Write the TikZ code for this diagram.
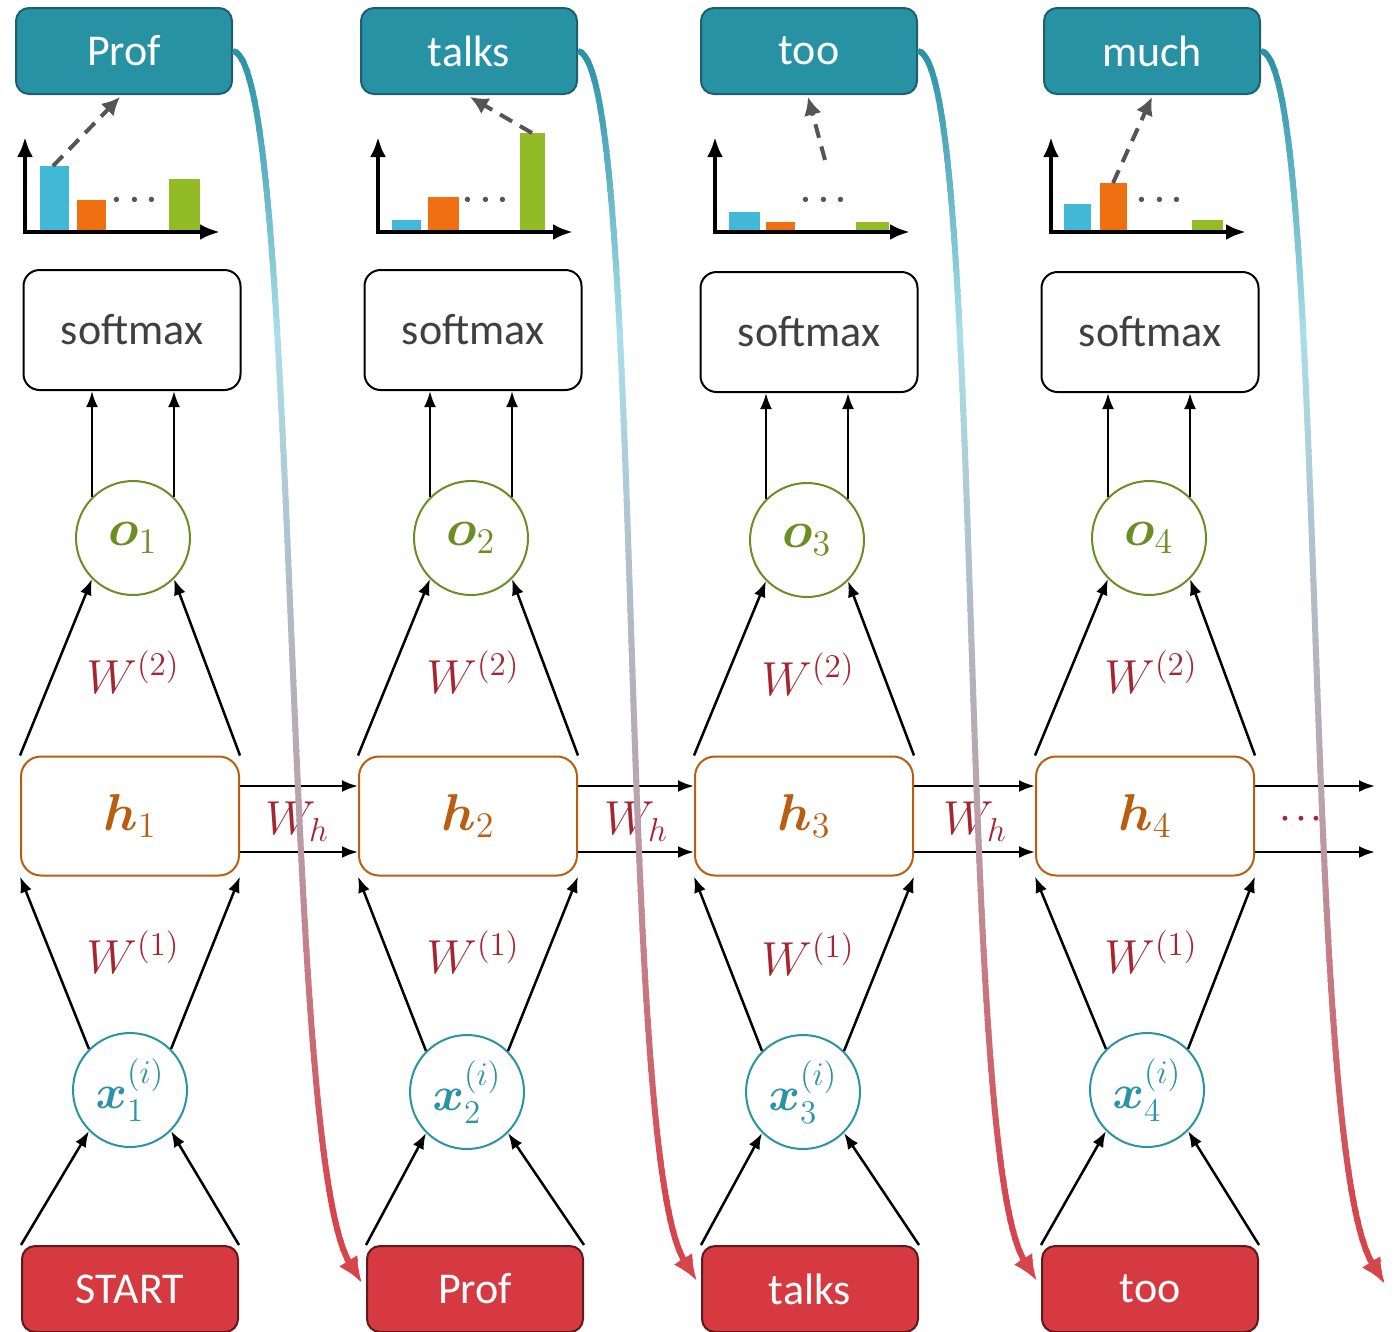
\documentclass[tikz,border=0pt]{standalone}
\usepackage{amsmath}
\usepackage{graphicx}
\usepackage{fontspec}
\setmainfont{Carlito}
\usetikzlibrary{arrows.meta,calc}
% math is set at 20pt and enlarged, so scripts keep a fixed ratio
\DeclareMathSizes{20}{20}{14}{10}
\newcommand\mlab[2][2.5]{\scalebox{#1}{$#2$}}

\definecolor{tealbox}{HTML}{2892A5}
\definecolor{tealedge}{HTML}{1D5F6B}
\definecolor{redbox}{HTML}{D6393F}
\definecolor{rededge}{HTML}{5E1A1C}
\definecolor{hcol}{HTML}{B95E10}
\definecolor{ocol}{HTML}{6B8E23}
\definecolor{xcol}{HTML}{2A93A6}
\definecolor{wcol}{HTML}{A52530}
\definecolor{txtgray}{HTML}{404040}
\definecolor{barcyan}{HTML}{41B8D5}
\definecolor{barorange}{HTML}{EE7011}
\definecolor{bargreen}{HTML}{93BB25}
\definecolor{dashgray}{HTML}{555555}
% stops of the feedback-curve colour ramp
\definecolor{gA}{HTML}{2A93A6}
\definecolor{gB}{HTML}{A9DEEA}
\definecolor{gC}{HTML}{B9A2AC}
\definecolor{gD}{HTML}{D6444C}

\tikzset{
  big/.style={font=\fontsize{44}{52}\selectfont},
  mth/.style={font=\fontsize{20}{24}\selectfont},
  topbox/.style={big, draw=tealedge, fill=tealbox, line width=2pt, rounded corners=13pt,
    minimum width=216pt, minimum height=86pt, text=white},
  botbox/.style={big, draw=rededge, fill=redbox, line width=2pt, rounded corners=13pt,
    minimum width=216pt, minimum height=86pt, text=white},
  smbox/.style={big, draw=black, line width=2pt, rounded corners=16pt,
    minimum width=217pt, minimum height=120pt, text=txtgray},
  hbox/.style={mth, draw=hcol, line width=2pt, rounded corners=20pt,
    minimum width=218pt, minimum height=119pt, text=hcol},
  ocirc/.style={mth, circle, draw=ocol, line width=2pt, minimum size=114pt, inner sep=0pt, text=ocol},
  xcirc/.style={mth, circle, draw=xcol, line width=2pt, minimum size=114pt, inner sep=0pt, text=xcol},
  wlab/.style={mth, text=wcol, inner sep=0pt},
  arr/.style={line width=2.5pt, -{Latex[length=16pt,width=12pt]}},
  axis/.style={line width=4pt, -{Latex[length=20pt,width=16pt]}},
  pick/.style={dashgray, line width=4pt, dash pattern=on 14pt off 9pt, -{Latex[length=18pt,width=18pt]}},
  feedback/.style={line width=6pt, -{Latex[length=26pt,width=22pt]}},
}

\newcommand\feedbackcurves[1]{%
  \draw[feedback, #1] (t1.east) .. controls ($(t1.east)+(68,12)$) and ($(b2.west)+(-86,-139)$) .. ($(b2.west)+(-4,-6)$);
  \draw[feedback, #1] (t2.east) .. controls ($(t2.east)+(68,12)$) and ($(b3.west)+(-86,-139)$) .. ($(b3.west)+(-4,-8)$);
  \draw[feedback, #1] (t3.east) .. controls ($(t3.east)+(68,12)$) and ($(b4.west)+(-86,-139)$) .. ($(b4.west)+(-4,-8)$);
  \draw[feedback, #1] (t4.east) .. controls ($(t4.east)+(68,12)$) and ($(e5)+(-86,-139)$) .. (e5);
}

\begin{document}
\begin{tikzpicture}[x=1pt,y=-1pt]
\useasboundingbox (0,0) rectangle (1399,1331);

% ---- nodes ----
\node[topbox] (t1) at (124,51) {Prof};
\node[topbox] (t2) at (469,51) {talks};
\node[topbox] (t3) at (809,51) {too};
\node[topbox] (t4) at (1152,51) {much};

\node[smbox] (s1) at (132,330) {softmax};
\node[smbox] (s2) at (473,330) {softmax};
\node[smbox] (s3) at (809,332) {softmax};
\node[smbox] (s4) at (1150,332) {softmax};

\node[ocirc] (o1) at (133,538) {\mlab{\boldsymbol{o}_1}};
\node[ocirc] (o2) at (471,538) {\mlab{\boldsymbol{o}_2}};
\node[ocirc] (o3) at (807,540) {\mlab{\boldsymbol{o}_3}};
\node[ocirc] (o4) at (1149,538) {\mlab{\boldsymbol{o}_4}};

\node[hbox] (h1) at (130,816) {\mlab{\boldsymbol{h}_1}};
\node[hbox] (h2) at (468,816) {\mlab{\boldsymbol{h}_2}};
\node[hbox] (h3) at (804,816) {\mlab{\boldsymbol{h}_3}};
\node[hbox] (h4) at (1145,816) {\mlab{\boldsymbol{h}_4}};

\node[xcirc] (x1) at (130,1090) {\mlab[2.3]{\boldsymbol{x}_1^{(i)}}};
\node[xcirc] (x2) at (467,1092) {\mlab[2.3]{\boldsymbol{x}_2^{(i)}}};
\node[xcirc] (x3) at (803,1092) {\mlab[2.3]{\boldsymbol{x}_3^{(i)}}};
\node[xcirc] (x4) at (1147,1090) {\mlab[2.3]{\boldsymbol{x}_4^{(i)}}};

\node[botbox] (b1) at (130,1289) {START};
\node[botbox] (b2) at (475,1289) {Prof};
\node[botbox] (b3) at (810,1289) {talks};
\node[botbox] (b4) at (1150,1289) {too};

\coordinate (e1) at (1375,786);
\coordinate (e2) at (1375,852);
\coordinate (e5) at (1385,1284);

% ---- weight labels ----
\foreach \i/\xx/\yy in {1/133/672, 2/473/672, 3/808/674, 4/1151/672}
  \node[wlab] (wo\i) at (\xx,\yy) {\mlab[2.3]{W^{(2)}}};
\foreach \i/\xx/\yy in {1/133/952, 2/473/952, 3/808/954, 4/1151/952}
  \node[wlab] (wi\i) at (\xx,\yy) {\mlab[2.3]{W^{(1)}}};
\foreach \i/\xx in {1/297, 2/636, 3/975}
  \node[wlab] (wh\i) at (\xx,822) {\mlab[2.3]{W_h}};
\node[wlab] (more) at (1304,819) {\mlab[1.5]{\boldsymbol{\cdots}}};

% ---- connectors ----
\foreach \i in {1,2,3,4}{
  \draw[arr] (o\i.135) -- (o\i.135 |- s\i.south);
  \draw[arr] (o\i.45) -- (o\i.45 |- s\i.south);
  \draw[arr] (h\i.north west) -- (o\i.225);
  \draw[arr] (h\i.north east) -- (o\i.-45);
  \draw[arr] (x\i.135) -- (h\i.south west);
  \draw[arr] (x\i.45) -- (h\i.south east);
  \draw[arr] (b\i.north west) -- (x\i.225);
  \draw[arr] (b\i.north east) -- (x\i.-45);
}
\foreach \i/\j in {1/2, 2/3, 3/4}{
  \draw[arr] ($(h\i.east)+(0,-30)$) -- ($(h\j.west)+(0,-30)$);
  \draw[arr] ($(h\i.east)+(0,36)$) -- ($(h\j.west)+(0,36)$);
}
\draw[arr] ($(h4.east)+(0,-30)$) -- (e1);
\draw[arr] ($(h4.east)+(0,36)$) -- (e2);

% ---- output distributions ----
\foreach \i/\ox/\ca/\cb/\ct/\oa/\ob/\ot/\ga/\gb/\gt/\dx in {
  1/25/40/69/166/77/106/200/169/200/179/138,
  2/378/392/421/220/428/459/197/520/545/133/489,
  3/715/729/760/212/766/795/222/856/889/222/827,
  4/1051/1064/1091/204/1100/1127/183/1192/1223/220/1163}{
  \fill[barcyan] (\ca,232) rectangle (\cb,\ct);
  \fill[barorange] (\oa,232) rectangle (\ob,\ot);
  \fill[bargreen] (\ga,232) rectangle (\gb,\gt);
  \node[mth, dashgray, inner sep=0pt] (dots\i) at (\dx,200) {\mlab[1.65]{\boldsymbol{\cdots}}};
  \draw[axis] (\ox,232) -- (\ox,137);
  \draw[axis] (\ox-2,232) -- (\ox+195,232);
}
\coordinate (p1) at (53,166);
\coordinate (p2) at (532,133);
\coordinate (p3) at (825,160);
\coordinate (p4) at (1113,183);
\draw[pick] (p1) -- ($(t1.south)+(-4,2)$);
\draw[pick] (p2) -- ($(t2.south)+(1,2)$);
\draw[pick] (p3) -- ($(t3.south)+(-1,2)$);
\draw[pick] (p4) -- ($(t4.south)+(0,2)$);

% ---- feedback curves, coloured band by band ----
\foreach \yy in {30,40,...,1320}{
  \ifnum\yy<330
    \pgfmathtruncatemacro\pc{max(0,min(100,(\yy-50)/2.8))}
    \colorlet{cc}{gB!\pc!gA}
  \else\ifnum\yy<800
    \pgfmathtruncatemacro\pc{(\yy-330)/4.7}
    \colorlet{cc}{gC!\pc!gB}
  \else
    \pgfmathtruncatemacro\pc{min(100,(\yy-800)/4)}
    \colorlet{cc}{gD!\pc!gC}
  \fi\fi
  \begin{scope}
    \clip (-10,\yy-1) rectangle (1410,\yy+11);
    \feedbackcurves{cc}
  \end{scope}
}
\end{tikzpicture}
\end{document}
